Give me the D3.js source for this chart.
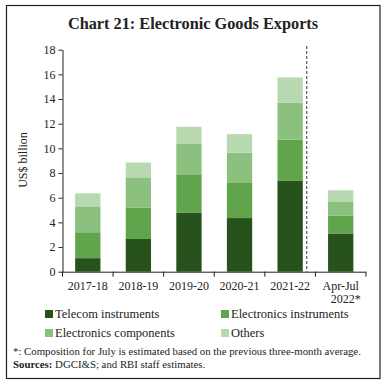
<!DOCTYPE html>
<html lang="en">
<head>
    <meta charset="utf-8">
    <title>Chart 21: Electronic Goods Exports</title>
    <script src="https://d3js.org/d3.v7.min.js"></script>
    <style type="text/css">
        body { margin: 0; background: #fff; }
        svg text { font-family: "Liberation Serif", "DejaVu Serif", serif; fill: #222; }
    </style>
</head>
<body>
<script type="text/javascript">
    // Size of the page
    var w = 386;
    var h = 385;

    // Data (US$ billion)
    var categories = ["2017-18", "2018-19", "2019-20", "2020-21", "2021-22", "Apr-Jul 2022*"];
    var seriesNames = ["Telecom instruments", "Electronics instruments", "Electronics components", "Others"];
    var telecom     = [1.1, 2.65, 4.8, 4.35, 7.4, 3.1];
    var instruments = [2.1, 2.55, 3.1, 2.9, 3.3, 1.45];
    var components  = [2.1, 2.45, 2.5, 2.4, 3.0, 1.15];
    var others      = [1.05, 1.2, 1.35, 1.5, 2.05, 0.9];
    var yTicks = [0, 2, 4, 6, 8, 10, 12, 14, 16, 18];

    var colors = ["#27521b", "#60a54c", "#8cc07e", "#b8d8b0"];

    // build rows for d3.stack
    var rows = categories.map(function(c, i) {
        return {
            cat: c,
            "Telecom instruments": telecom[i],
            "Electronics instruments": instruments[i],
            "Electronics components": components[i],
            "Others": others[i]
        };
    });

    var svg = d3.select("body")
                .append("svg")
                .attr("width", w)
                .attr("height", h);

    // outer frame
    svg.append("rect")
        .attr("x", 6.5).attr("y", 5.5)
        .attr("width", 373.5).attr("height", 373)
        .attr("fill", "none")
        .attr("stroke", "#222")
        .attr("stroke-width", 1.2);

    // title
    svg.append("text")
        .attr("x", 193).attr("y", 29)
        .attr("text-anchor", "middle")
        .style("font-size", "16.3px")
        .style("font-weight", "bold")
        .text("Chart 21: Electronic Goods Exports");

    var x = d3.scaleBand()
        .domain(categories)
        .range([62.5, 366])
        .paddingInner(0.5)
        .paddingOuter(0.25);

    var y = d3.scaleLinear()
        .domain([0, 18])
        .range([271.7, 49.7]);

    var stack = d3.stack().keys(seriesNames);
    var layers = stack(rows);

    svg.selectAll("g.layer")
        .data(layers)
        .enter()
        .append("g")
        .attr("class", "layer")
        .attr("fill", function(d, i) { return colors[i]; })
        .selectAll("rect")
        .data(function(d) { return d; })
        .enter()
        .append("rect")
        .attr("x", function(d) { return x(d.data.cat); })
        .attr("width", x.bandwidth())
        .attr("y", function(d) { return y(d[1]); })
        .attr("height", function(d) { return y(d[0]) - y(d[1]); });

    // Y axis
    var yAxis = d3.axisLeft(y)
        .tickValues(yTicks)
        .tickSize(4)
        .tickSizeOuter(0)
        .tickPadding(3);
    var gy = svg.append("g")
        .attr("transform", "translate(62.5,0)")
        .call(yAxis);
    gy.selectAll("text").style("font-size", "12px").style("fill", "#222");
    gy.selectAll("line, path").attr("stroke", "#222");

    // X axis with ticks at band boundaries
    var half = (x.step() - x.bandwidth()) / 2;
    var bounds = categories.map(function(c) { return x(c) - half; });
    bounds.push(x(categories[categories.length - 1]) + x.bandwidth() + half);

    var gx = svg.append("g");
    gx.append("line")
        .attr("x1", bounds[0]).attr("x2", bounds[bounds.length - 1])
        .attr("y1", y(0) + 0.5).attr("y2", y(0) + 0.5)
        .attr("stroke", "#222");
    gx.selectAll("line.tick")
        .data(bounds)
        .enter()
        .append("line")
        .attr("class", "tick")
        .attr("x1", function(d) { return d; }).attr("x2", function(d) { return d; })
        .attr("y1", y(0)).attr("y2", y(0) + 5)
        .attr("stroke", "#222");

    // category labels; the last one wraps onto two lines
    categories.forEach(function(d) {
        var parts = d.split(" ");
        var cx = x(d) + x.bandwidth() / 2;
        gx.append("text")
            .attr("text-anchor", "middle")
            .attr("x", cx)
            .attr("y", 290)
            .style("font-size", "12px")
            .text(parts[0]);
        if (parts[1]) {
            gx.append("text")
                .attr("text-anchor", "middle")
                .attr("x", cx + 5)
                .attr("y", 303)
                .style("font-size", "12px")
                .text(parts[1]);
        }
    });

    // dashed separator before the partial year
    var sepX = x(categories[4]) + x.bandwidth() + 4;
    svg.append("line")
        .attr("x1", sepX).attr("x2", sepX)
        .attr("y1", 46).attr("y2", y(0))
        .attr("stroke", "#333")
        .attr("stroke-dasharray", "3,2");

    // Y label
    svg.append("text")
        .attr("transform", "translate(27,160) rotate(-90)")
        .attr("text-anchor", "middle")
        .style("font-size", "12px")
        .text("US$ billion");

    // legend
    var legendPos = [[45, 318], [221, 318], [45, 337], [221, 337]];
    var lg = svg.selectAll("g.legend")
        .data(seriesNames)
        .enter()
        .append("g")
        .attr("class", "legend")
        .attr("transform", function(d, i) { return "translate(" + legendPos[i][0] + "," + legendPos[i][1] + ")"; });
    lg.append("rect")
        .attr("x", 0).attr("y", -8)
        .attr("width", 8).attr("height", 8)
        .attr("fill", function(d, i) { return colors[i]; });
    lg.append("text")
        .attr("x", 10).attr("y", 0)
        .style("font-size", "12.5px")
        .text(function(d) { return d; });

    // notes
    svg.append("text")
        .attr("x", 13).attr("y", 355)
        .style("font-size", "10.8px")
        .text("*: Composition for July is estimated based on the previous three-month average.");
    var src = svg.append("text")
        .attr("x", 13).attr("y", 368)
        .style("font-size", "10.8px");
    src.append("tspan").style("font-weight", "bold").text("Sources: ");
    src.append("tspan").text("DGCI&S; and RBI staff estimates.");
</script>
</body>
</html>
